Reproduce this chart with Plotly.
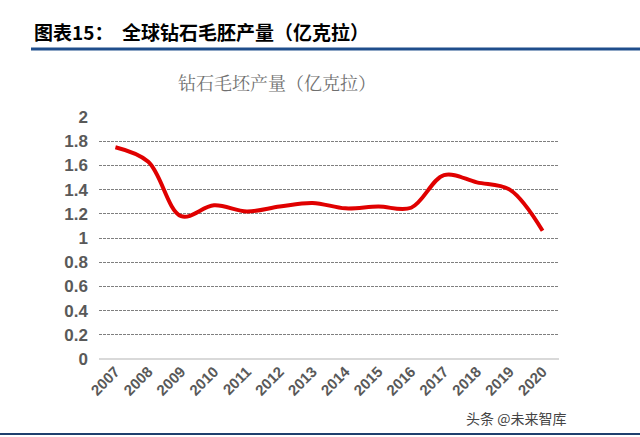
import plotly.graph_objects as go

years = ["2007", "2008", "2009", "2010", "2011", "2012", "2013", "2014",
         "2015", "2016", "2017", "2018", "2019", "2020"]
production = [1.75, 1.63, 1.18, 1.27, 1.22, 1.26, 1.29, 1.245, 1.26, 1.25, 1.52, 1.46, 1.40, 1.06]
y_ticks = [0, 0.2, 0.4, 0.6, 0.8, 1, 1.2, 1.4, 1.6, 1.8, 2]
y_tick_text = ["0", "0.2", "0.4", "0.6", "0.8", "1", "1.2", "1.4", "1.6", "1.8", "2"]

fig = go.Figure()
fig.add_trace(go.Scatter(
    x=years, y=production, mode="lines",
    line=dict(color="#E00000", width=4, shape="spline", smoothing=1.0),
    hoverinfo="skip", showlegend=False,
))

fig.update_layout(
    width=640, height=437,
    margin=dict(l=99, r=81, t=117, b=78),
    paper_bgcolor="white", plot_bgcolor="white",
    xaxis=dict(
        type="category", range=[-0.5, 13.5], tickangle=-45, showgrid=False, showline=False,
        zeroline=False, ticks="",
        tickfont=dict(family="Liberation Sans, Arial", size=15, color="#595959", weight="bold"),
    ),
    yaxis=dict(
        range=[0, 2], tickvals=y_ticks, ticktext=y_tick_text, showgrid=True,
        gridcolor="#7f7f7f", gridwidth=1, griddash="3px,1px",
        zeroline=True, zerolinecolor="#d9d9d9", zerolinewidth=1.5, showline=False, ticks="",
        ticklabelstandoff=10,
        tickfont=dict(family="Liberation Sans, Arial", size=17, color="#595959", weight="bold"),
    ),
    annotations=[
        dict(text="图表15：  全球钻石毛胚产量（亿克拉）", xref="paper", yref="paper",
             x=(32 - 99) / 460, y=(359 - 32) / 242,
             xanchor="left", yanchor="middle", showarrow=False,
             font=dict(family="Noto Sans CJK SC", size=19, color="#000000", weight="bold")),
        dict(text="钻石毛坯产量（亿克拉）", xref="paper", yref="paper",
             x=(277 - 99) / 460, y=(359 - 82) / 242, xanchor="center", yanchor="middle",
             showarrow=False,
             font=dict(family="Noto Serif CJK SC, Noto Sans CJK SC", size=18, color="#707070")),
        dict(text="头条 @未来智库", xref="paper", yref="paper",
             x=(568 - 99) / 460, y=(359 - 418) / 242, xanchor="right", yanchor="middle",
             showarrow=False,
             font=dict(family="Noto Sans CJK SC", size=14, color="#444444")),
    ],
    shapes=[
        dict(type="line", xref="paper", yref="paper",
             x0=(31 - 99) / 460, x1=(640 - 99) / 460,
             y0=(359 - 49) / 242, y1=(359 - 49) / 242,
             line=dict(color="#1F4E8C", width=3)),
        dict(type="line", xref="paper", yref="paper",
             x0=(0 - 99) / 460, x1=(640 - 99) / 460,
             y0=(359 - 434) / 242, y1=(359 - 434) / 242,
             line=dict(color="#1F3F6E", width=2)),
    ],
)

fig.write_html("out.html")
